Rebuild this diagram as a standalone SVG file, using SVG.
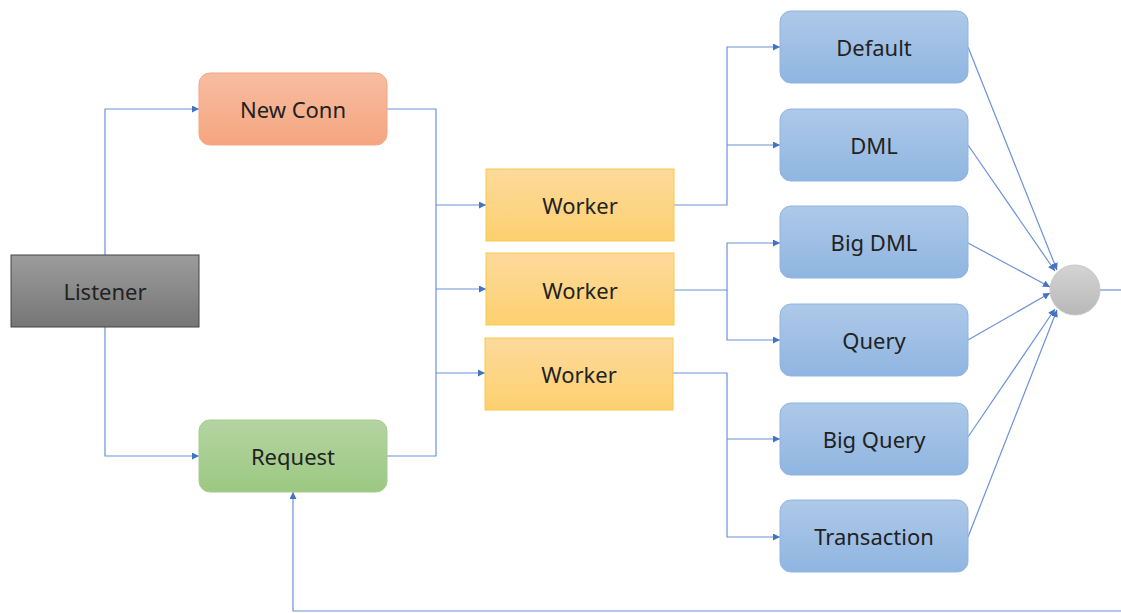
<svg xmlns="http://www.w3.org/2000/svg" width="1121" height="613" viewBox="0 0 1121 613">
<defs>
<linearGradient id="gGray" x1="0" y1="0" x2="0" y2="1"><stop offset="0" stop-color="#9c9c9c"/><stop offset="1" stop-color="#767676"/></linearGradient>
<linearGradient id="gOrange" x1="0" y1="0" x2="0" y2="1"><stop offset="0" stop-color="#f7bda1"/><stop offset="1" stop-color="#f5a57f"/></linearGradient>
<linearGradient id="gGreen" x1="0" y1="0" x2="0" y2="1"><stop offset="0" stop-color="#b4d4a2"/><stop offset="1" stop-color="#9cc881"/></linearGradient>
<linearGradient id="gYellow" x1="0" y1="0" x2="0" y2="1"><stop offset="0" stop-color="#fdda9c"/><stop offset="1" stop-color="#fdd06f"/></linearGradient>
<linearGradient id="gBlue" x1="0" y1="0" x2="0" y2="1"><stop offset="0" stop-color="#aec9e8"/><stop offset="1" stop-color="#8fb5e1"/></linearGradient>
<linearGradient id="gCircle" x1="0" y1="0" x2="0" y2="1"><stop offset="0" stop-color="#d4d4d4"/><stop offset="1" stop-color="#b8b8b8"/></linearGradient>
<marker id="arr" viewBox="0 0 10 10" refX="10" refY="5" markerWidth="7" markerHeight="7" markerUnits="userSpaceOnUse" orient="auto"><path d="M0,0 L10,5 L0,10 z" fill="#4472c4"/></marker>
</defs>
<style>
text{font-family:"Noto Sans","Open Sans","Liberation Sans",sans-serif;font-size:22px;fill:#222;text-anchor:middle;dominant-baseline:central}
.c{fill:none;stroke:#6a92d8;stroke-width:1.2}
.a{marker-end:url(#arr)}
.blue{fill:url(#gBlue);stroke:#8fb4e2;stroke-width:1}
.yel{fill:url(#gYellow);stroke:#f9c94a;stroke-width:1}
</style>
<rect width="1121" height="613" fill="#ffffff"/>
<g id="connectors">
<path class="c a" d="M105,255 V109 H199"/>
<path class="c a" d="M105,327 V456 H199"/>
<path class="c" d="M387,109 H436 V456 H387"/>
<path class="c a" d="M436,205 H486"/>
<path class="c a" d="M436,289 H486"/>
<path class="c a" d="M436,373 H485"/>
<path class="c a" d="M674,205 H727 V47 H780"/>
<path class="c a" d="M727,145 H780"/>
<path class="c a" d="M674,290 H727 V243 H780"/>
<path class="c a" d="M727,290 V340 H780"/>
<path class="c a" d="M673,373 H727 V537 H780"/>
<path class="c a" d="M727,439 H780"/>
<path class="c a" d="M968,47 L1057,270"/>
<path class="c a" d="M968,145 L1055,271"/>
<path class="c a" d="M968,243 L1050,287"/>
<path class="c a" d="M968,340 L1050,293"/>
<path class="c a" d="M968,437 L1055,309"/>
<path class="c a" d="M968,537 L1057,310"/>
<path class="c" d="M1100,290 H1121"/>
<path class="c a" d="M1121,611 H293 V492"/>
</g>
<g id="listener"><rect x="11" y="255" width="188" height="72" fill="url(#gGray)" stroke="#444" stroke-width="1"/><text x="105" y="291">Listener</text></g>
<g id="newconn"><rect x="199" y="73" width="188" height="72" rx="11" fill="url(#gOrange)" stroke="#f4a781" stroke-width="1"/><text x="293" y="109">New Conn</text></g>
<g id="request"><rect x="199" y="420" width="188" height="72" rx="11" fill="url(#gGreen)" stroke="#a6cd8e" stroke-width="1"/><text x="293" y="456">Request</text></g>
<g id="worker1"><rect class="yel" x="486" y="169" width="188" height="72"/><text x="580" y="205">Worker</text></g>
<g id="worker2"><rect class="yel" x="486" y="253" width="188" height="72"/><text x="580" y="290">Worker</text></g>
<g id="worker3"><rect class="yel" x="485" y="338" width="188" height="72"/><text x="579" y="374">Worker</text></g>
<g id="default"><rect class="blue" x="780" y="11" width="188" height="72" rx="11"/><text x="874" y="47">Default</text></g>
<g id="dml"><rect class="blue" x="780" y="109" width="188" height="72" rx="11"/><text x="874" y="145">DML</text></g>
<g id="bigdml"><rect class="blue" x="780" y="206" width="188" height="72" rx="11"/><text x="874" y="242">Big DML</text></g>
<g id="query"><rect class="blue" x="780" y="304" width="188" height="72" rx="11"/><text x="874" y="340">Query</text></g>
<g id="bigquery"><rect class="blue" x="780" y="403" width="188" height="72" rx="11"/><text x="874" y="439">Big Query</text></g>
<g id="transaction"><rect class="blue" x="780" y="500" width="188" height="72" rx="11"/><text x="874" y="536">Transaction</text></g>
<g id="merge"><circle cx="1075" cy="290" r="25" fill="url(#gCircle)" stroke="#c8c8c8" stroke-width="1"/></g>
</svg>
